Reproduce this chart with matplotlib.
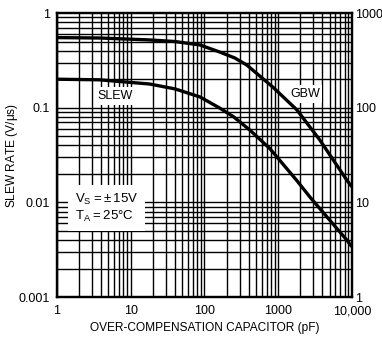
import numpy as np
import matplotlib
matplotlib.use('Agg')
import matplotlib.pyplot as plt
from matplotlib.ticker import FixedLocator, NullFormatter, NullLocator

plt.rcParams['font.family'] = ['Liberation Sans Narrow', 'Liberation Sans', 'DejaVu Sans']

# values
gbw_cap_pf = [1, 3.8, 18, 40, 87, 162, 259, 377, 849, 1795, 3680, 8550, 10000]
gbw_mhz = [550, 545, 520, 500, 460, 387, 335, 282, 165, 95, 45.6, 17.2, 14.6]
slew_cap_pf = [1, 3.8, 18, 40, 87, 162, 250, 414, 773, 1795, 2700, 4040, 8550, 10000]
slew_v_us = [0.2, 0.197, 0.178, 0.158, 0.130, 0.099, 0.080, 0.058, 0.037, 0.0170,
             0.0114, 0.0079, 0.0040, 0.0034]

left_ticks = [0.001, 0.01, 0.1, 1]
left_labels = ['0.001', '0.01', '0.1', '1']
right_ticks = [1, 10, 100, 1000]
right_labels = ['1', '10', '100', '1000']
x_ticks = [1, 10, 100, 1000, 10000]
x_labels = ['1', '10', '100', '1000', '10,000']

fig = plt.figure(figsize=(3.82, 3.43), dpi=100)
ax = fig.add_axes([0.149, 0.134, 0.772, 0.828])
ax.set_xscale('log')
ax.set_yscale('log')
ax.set_xlim(1, 10000)
ax.set_ylim(0.001, 1)

# grid at every 1..9 in each decade
xminor = [m * 10 ** d for d in range(0, 4) for m in range(1, 10)]
yminor = [m * 10.0 ** d for d in range(-3, 0) for m in range(1, 10)]
for v in xminor:
    ax.axvline(v, color='black', lw=1.0, zorder=1)
for v in yminor:
    ax.axhline(v, color='black', lw=1.0, zorder=1)

ax.xaxis.set_major_locator(FixedLocator(x_ticks))
ax.set_xticklabels(x_labels)
ax.xaxis.set_minor_locator(NullLocator())
ax.xaxis.set_minor_formatter(NullFormatter())
ax.yaxis.set_major_locator(FixedLocator(left_ticks))
ax.set_yticklabels(left_labels)
ax.yaxis.set_minor_locator(NullLocator())
ax.yaxis.set_minor_formatter(NullFormatter())
ax.tick_params(length=0, labelsize=9, pad=6)
ax.tick_params(axis='y', pad=5)

ax.plot(slew_cap_pf, slew_v_us, color='black', lw=2.4, zorder=3, solid_capstyle='butt')

ax2 = ax.twinx()
ax2.set_yscale('log')
ax2.set_ylim(1, 1000)
ax2.yaxis.set_major_locator(FixedLocator(right_ticks))
ax2.set_yticklabels(right_labels)
ax2.yaxis.set_minor_locator(NullLocator())
ax2.yaxis.set_minor_formatter(NullFormatter())
ax2.tick_params(length=0, labelsize=9, pad=2)
ax2.plot(gbw_cap_pf, gbw_mhz, color='black', lw=2.4, zorder=3, solid_capstyle='butt')

for a in (ax, ax2):
    for s in a.spines.values():
        s.set_linewidth(1.6)

box = dict(facecolor='white', edgecolor='none', pad=2)
ax.text(6.1, 0.133, 'SLEW', fontsize=9, ha='center', va='center', bbox=box, zorder=4)
ax.text(2300, 0.139, 'GBW', fontsize=9, ha='center', va='center', bbox=box, zorder=4)
ax.text(1.75, 0.0087, '$\\mathregular{V_S = \\pm\\,15V}$\n$\\mathregular{T_A = 25°C}$',
        fontsize=9.5, ha='left', va='center', linespacing=1.15,
        bbox=dict(facecolor='white', edgecolor='none', pad=5), zorder=4)

ax.set_xlabel('OVER-COMPENSATION CAPACITOR (pF)', fontsize=8.6, labelpad=3)
ax.set_ylabel('SLEW RATE (V/$\\mathregular{\\mu}$s)', fontsize=8.6)
ax.yaxis.set_label_coords(-0.125, 0.5)

fig.savefig('out.png', dpi=100)
